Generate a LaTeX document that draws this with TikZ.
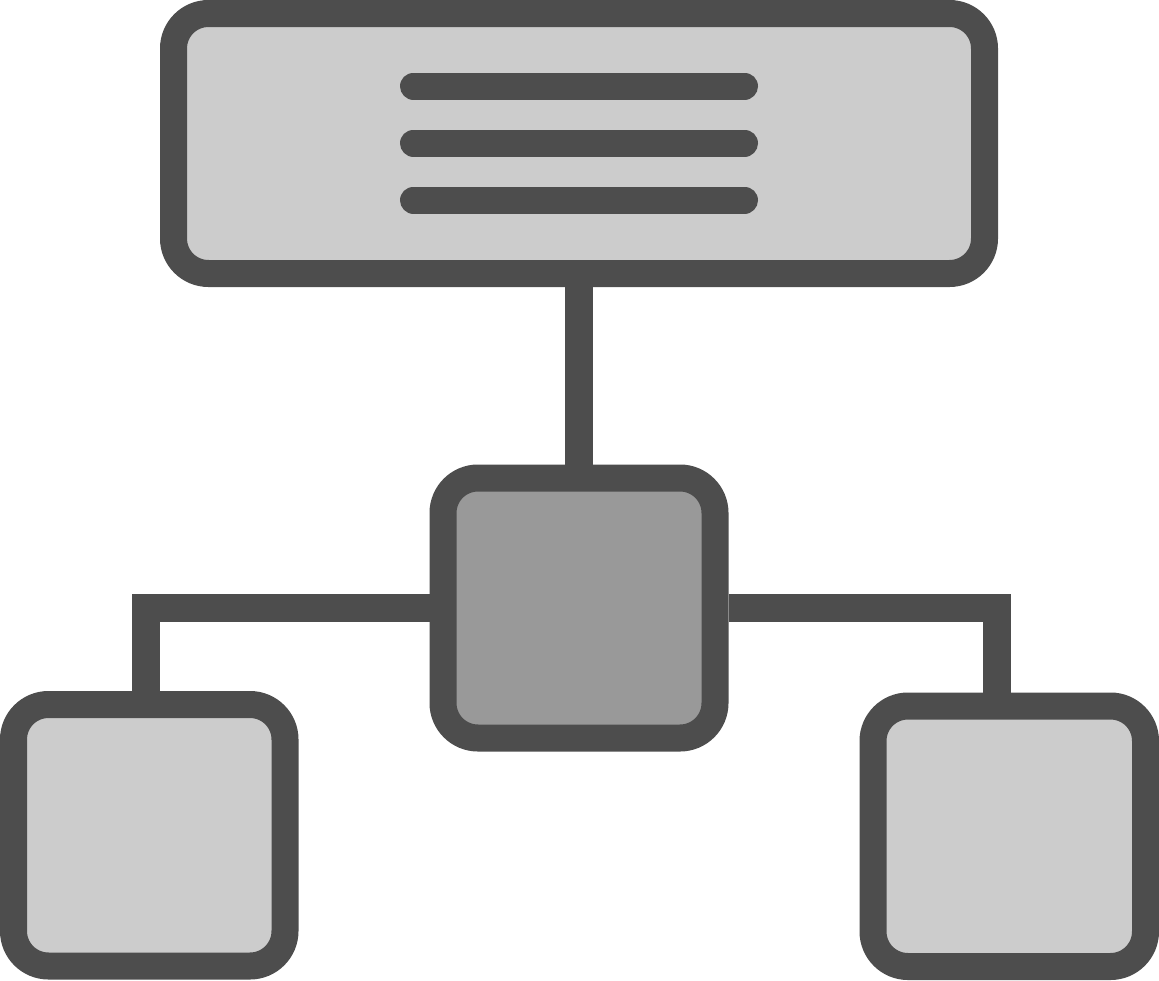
\documentclass[tikz,border=0pt]{standalone}
\usepackage{tikz}
\definecolor{ink}{HTML}{4D4D4D}
\definecolor{lightfill}{HTML}{CCCCCC}
\definecolor{midfill}{HTML}{999999}
\begin{document}
\begin{tikzpicture}[x=1pt,y=-1pt,
  box/.style={draw=ink,line width=27pt,rounded corners=35pt,inner sep=0pt,fill=lightfill},
  link/.style={draw=ink,line width=28pt,line cap=butt,line join=miter},
  bar/.style={draw=ink,line width=27pt,line cap=round}]
\useasboundingbox (0,0) rectangle (1159,980);
\node[box,minimum width=811pt,minimum height=260pt] (top) at (579,143.5) {};
\node[box,fill=midfill,minimum width=272pt,minimum height=260pt] (mid) at (579,608) {};
\node[box,minimum width=271.5pt,minimum height=261.5pt] (left) at (149.25,835.25) {};
\node[box,minimum width=272.5pt,minimum height=260.5pt] (right) at (1009.25,836.25) {};
\draw[bar] (413.5,86) -- (744.5,86);
\draw[bar] (413.5,143) -- (744.5,143);
\draw[bar] (413.5,200) -- (744.5,200);
\draw[link] (top.south) -- (mid.north);
\draw[link] (mid.west) -| ([xshift=-3.25pt]left.north);
\draw[link] (mid.east) -| ([xshift=-12.25pt]right.north);
\end{tikzpicture}
\end{document}
